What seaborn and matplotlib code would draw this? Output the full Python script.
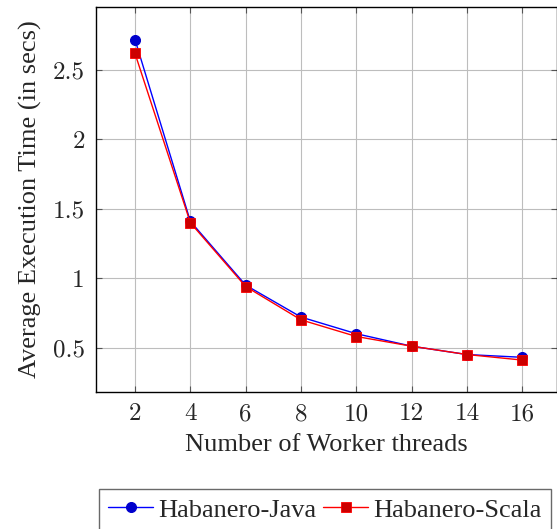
import matplotlib
matplotlib.use("Agg")
import matplotlib.pyplot as plt
import seaborn as sns
import pandas as pd

threads = [2, 4, 6, 8, 10, 12, 14, 16]
java = [2.72, 1.41, 0.95, 0.72, 0.60, 0.51, 0.45, 0.43]
scala = [2.62, 1.40, 0.94, 0.70, 0.58, 0.51, 0.45, 0.41]
series_names = ["Habanero-Java", "Habanero-Scala"]
yticks = [0.5, 1, 1.5, 2, 2.5]
yticklabels = ["0.5", "1", "1.5", "2", "2.5"]

df = pd.DataFrame({
    "threads": threads * 2,
    "time": java + scala,
    "series": [series_names[0]] * len(threads) + [series_names[1]] * len(threads),
})

sns.set_style("white")
plt.rcParams["font.family"] = ["cmr10", "DejaVu Serif"]
plt.rcParams["mathtext.fontset"] = "cm"
plt.rcParams["axes.formatter.use_mathtext"] = True

fig = plt.figure(figsize=(5.57, 5.29), dpi=100)
ax = fig.add_axes([96 / 557, 1 - 392 / 529, 461 / 557, 385 / 529])

palette = {series_names[0]: "#0000ff", series_names[1]: "#ff0000"}
sns.lineplot(data=df, x="threads", y="time", hue="series", palette=palette,
             ax=ax, legend=False, linewidth=1.0)
lines = ax.get_lines()
styles = [dict(marker="o", markerfacecolor="#0000cc", markeredgecolor="#0000cc", markersize=7.2),
          dict(marker="s", markerfacecolor="#cc0000", markeredgecolor="#ff0000", markersize=7.6, markeredgewidth=0.6)]
for ln, st in zip(lines, styles):
    ln.set(**st)

ax.set_xlim(0.59, 17.25)
ax.set_ylim(0.18, 2.955)
ax.set_xticks(threads)
ax.set_xticklabels([str(t) for t in threads])
ax.set_yticks(yticks)
ax.set_yticklabels(yticklabels)
ax.grid(True, color="#bdbdbd", linewidth=0.8)
ax.tick_params(direction="in", length=4, width=0.8, color="#555555",
               top=True, right=True, bottom=True, left=True, labelsize=18, pad=8)
for s in ax.spines.values():
    s.set_color("black")
    s.set_linewidth(1.0)
label_font = {"family": "Liberation Serif", "size": 19}
ax.set_xlabel("Number of Worker threads", fontdict=label_font, labelpad=6)
ax.set_ylabel("Average Execution Time (in secs)", fontdict=label_font, labelpad=8)

leg = fig.legend(lines, series_names, loc="upper left", bbox_to_anchor=(99 / 557, 1 - 489 / 529),
                 ncol=2, frameon=True, fancybox=False, edgecolor="#444444",
                 prop={"family": "Liberation Serif", "size": 19},
                 handlelength=1.7, handletextpad=0.2, columnspacing=0.25,
                 borderpad=0.35, borderaxespad=0)
leg.get_frame().set_linewidth(1.0)

fig.savefig("out.png", dpi=100)
